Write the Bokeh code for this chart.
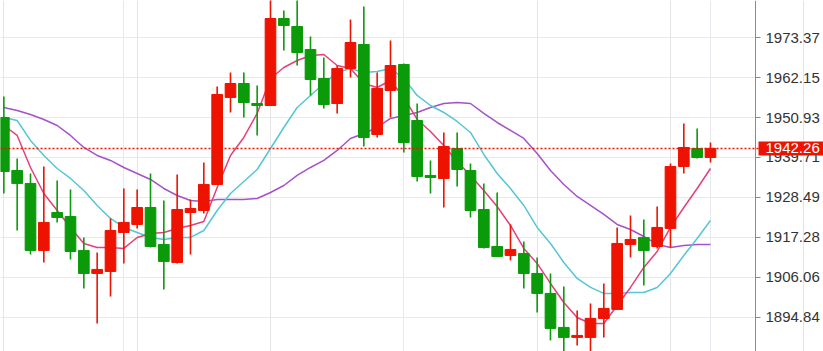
from bokeh.plotting import figure
from bokeh.models import (FixedTicker, PrintfTickFormatter, Span, Label, Grid,
                          ColumnDataSource, Range1d, BoxAnnotation)
from bokeh.embed import file_html
from bokeh.resources import INLINE

# ---- data ----
opens = [1950.94, 1936.07, 1932.43, 1913.64, 1924.29, 1923.17, 1913.64, 1907.18, 1907.75, 1918.68,
         1920.93, 1925.69, 1915.32, 1910.27, 1924.29, 1924.85, 1932.15, 1956.55, 1960.47, 1954.86,
         1954.30, 1978.70, 1976.46, 1970.01, 1961.87, 1954.86, 1964.68, 1971.41, 1946.17, 1958.51,
         1965.80, 1950.09, 1934.67, 1933.83, 1942.24, 1936.07, 1925.13, 1914.76, 1912.23, 1912.79,
         1907.18, 1901.58, 1892.04, 1889.24, 1889.24, 1894.56, 1897.09, 1915.32, 1917.28, 1914.76,
         1919.81, 1937.19, 1942.24, 1939.72]
highs = [1956.83, 1939.44, 1935.23, 1937.19, 1933.27, 1930.74, 1917.28, 1913.07, 1922.61, 1931.02,
         1930.74, 1935.23, 1927.66, 1934.95, 1927.94, 1938.32, 1959.63, 1963.56, 1963.56, 1959.91,
         1985.50, 1980.95, 1984.80, 1973.65, 1967.76, 1965.52, 1978.42, 1982.07, 1963.56, 1972.53,
         1966.08, 1954.86, 1938.88, 1946.73, 1946.73, 1938.03, 1932.43, 1929.90, 1920.93, 1916.16,
         1911.67, 1907.18, 1903.54, 1896.81, 1898.77, 1904.38, 1920.09, 1923.45, 1922.33, 1925.98,
         1938.03, 1949.25, 1947.85, 1943.92]
lows = [1929.62, 1919.24, 1912.51, 1910.27, 1921.49, 1911.11, 1902.98, 1893.16, 1900.73, 1909.99,
        1919.81, 1914.48, 1902.70, 1909.99, 1912.51, 1924.01, 1932.15, 1952.34, 1950.94, 1945.89,
        1954.30, 1969.73, 1965.52, 1957.11, 1953.46, 1952.06, 1962.15, 1942.80, 1945.33, 1950.94,
        1941.12, 1932.99, 1929.62, 1925.69, 1931.58, 1922.89, 1914.20, 1911.90, 1910.83, 1902.98,
        1896.25, 1888.39, 1884.19, 1886.99, 1885.03, 1889.24, 1897.09, 1911.67, 1903.82, 1914.20,
        1914.48, 1935.23, 1939.44, 1938.32]
closes = [1935.79, 1932.43, 1913.64, 1921.49, 1922.89, 1913.35, 1907.18, 1908.31, 1919.24, 1921.49,
          1925.69, 1914.76, 1910.55, 1925.13, 1925.41, 1932.15, 1957.39, 1960.47, 1955.14, 1954.30,
          1978.70, 1976.74, 1969.17, 1961.59, 1954.58, 1964.68, 1971.97, 1945.33, 1959.07, 1965.52,
          1943.92, 1934.39, 1934.11, 1942.80, 1936.35, 1924.85, 1914.48, 1911.95, 1913.92, 1907.18,
          1901.58, 1891.76, 1889.24, 1889.80, 1894.56, 1897.37, 1915.60, 1916.72, 1913.64, 1920.09,
          1937.19, 1942.52, 1939.72, 1942.26]

ma_fast = [1948.69, 1945.89, 1936.91, 1929.62, 1924.85, 1920.09, 1915.60, 1914.48, 1914.48, 1914.20,
           1917.28, 1918.40, 1918.68, 1919.81, 1920.65, 1921.77, 1931.30, 1940.28, 1945.33, 1952.06,
           1961.87, 1964.96, 1966.92, 1968.32, 1968.61, 1965.52, 1964.68, 1960.47, 1959.35, 1961.31,
           1956.55, 1950.38, 1947.01, 1943.08, 1938.60, 1934.67, 1930.46, 1925.98, 1920.65, 1914.20,
           1909.99, 1904.38, 1899.05, 1894.84, 1893.16, 1893.16, 1898.21, 1903.26, 1908.87, 1913.35,
           1920.09, 1925.69, 1931.02, 1936.63]
ma_mid = [1950.94, 1950.09, 1944.49, 1940.28, 1936.63, 1933.83, 1930.46, 1926.26, 1922.61, 1920.09,
          1918.68, 1917.28, 1916.72, 1917.28, 1917.28, 1919.24, 1924.85, 1929.62, 1932.99, 1936.35,
          1942.24, 1948.13, 1953.74, 1957.11, 1960.47, 1963.56, 1964.68, 1963.56, 1963.84, 1964.68,
          1961.87, 1957.11, 1954.30, 1952.34, 1949.81, 1946.73, 1940.56, 1935.23, 1931.02, 1926.26,
          1920.09, 1915.60, 1910.27, 1905.78, 1903.26, 1901.58, 1901.58, 1901.86, 1901.86, 1903.26,
          1907.18, 1912.23, 1917.00, 1922.05]
ma_slow = [1953.74, 1952.90, 1951.78, 1950.38, 1948.69, 1945.89, 1942.52, 1940.28, 1938.88, 1936.91,
           1935.23, 1933.55, 1931.02, 1929.06, 1927.66, 1927.38, 1927.94, 1927.94, 1927.94, 1928.22,
           1929.90, 1931.86, 1934.67, 1936.91, 1938.88, 1941.68, 1945.05, 1946.45, 1948.13, 1950.66,
           1951.50, 1952.34, 1953.74, 1954.86, 1955.14, 1954.86, 1952.06, 1949.53, 1947.29, 1945.05,
           1940.84, 1936.07, 1932.15, 1928.78, 1926.26, 1923.73, 1920.93, 1919.52, 1917.56, 1915.32,
           1914.48, 1915.04, 1915.32, 1915.32]

y_ticks = [1883.62, 1894.84, 1906.06, 1917.28, 1928.49, 1939.71, 1950.93, 1962.15, 1973.37, 1984.59]
period_breaks = [9, 30, 53]
last_price = 1942.26

# ---- layout / styling ----
RED = "#ee1300"
GREEN = "#0a9a0a"
GRID = "#e6e9ee"
FONT = "Liberation Sans"
W, H = 823, 351
X0 = -0.25                 # left edge of the view, in bar units
BAR_PX = 13.333            # pixels per bar
AXIS_X = X0 + 755 / BAR_PX  # where the price scale sits
X1 = X0 + W / BAR_PX

idx = list(range(len(opens)))
colors = [RED if c >= o else GREEN for o, c in zip(opens, closes)]
src = ColumnDataSource(dict(
    x=idx, o=opens, h=highs, l=lows, c=closes,
    top=[max(o, c) for o, c in zip(opens, closes)],
    bot=[min(o, c) for o, c in zip(opens, closes)],
    color=colors,
    fast=ma_fast, mid=ma_mid, slow=ma_slow,
))

p = figure(frame_width=W, frame_height=H,
           x_range=Range1d(X0, X1), y_range=Range1d(1885.29, 1983.75),
           x_axis_location=None, y_axis_location="right",
           toolbar_location=None, output_backend="svg",
           min_border=0, outline_line_color=None,
           background_fill_color="white", border_fill_color="white")

# grids
p.ygrid.ticker = FixedTicker(ticks=y_ticks)
p.ygrid.grid_line_color = GRID
p.ygrid.grid_line_width = 1
vgrid = Grid(dimension=0, ticker=FixedTicker(ticks=period_breaks),
             grid_line_color=GRID, grid_line_width=1)
p.add_layout(vgrid)
if "cross_bounds" in Grid.properties():
    p.ygrid.cross_bounds = (X0, AXIS_X)
else:
    p.add_layout(BoxAnnotation(left=AXIS_X, fill_color="white", fill_alpha=1,
                               line_color=None, level="underlay"))

# price axis drawn at a fixed spot inside the view
ax = p.yaxis[0]
ax.fixed_location = AXIS_X
ax.ticker = FixedTicker(ticks=y_ticks)
ax.formatter = PrintfTickFormatter(format="%.2f")
ax.axis_line_color = "#8a8a8a"
ax.major_tick_line_color = "#8a8a8a"
ax.major_tick_out = 5
ax.major_tick_in = 0
ax.minor_tick_line_color = None
ax.major_label_standoff = 5
ax.major_label_text_font = FONT
ax.major_label_text_font_size = "15px"
ax.major_label_text_color = "#333333"

# moving averages
p.line("x", "slow", source=src, line_color="#a552c8", line_width=1.5)
p.line("x", "mid", source=src, line_color="#55c6d6", line_width=1.5)
p.line("x", "fast", source=src, line_color="#e4407a", line_width=1.5)

# candles
p.segment(x0="x", y0="h", x1="x", y1="l", source=src, line_color="color", line_width=1.6)
p.vbar(x="x", top="top", bottom="bot", width=0.8, source=src,
       fill_color="color", line_color="color", line_width=1)

# last price line and tag
p.add_layout(Span(location=last_price, dimension="width", line_color=RED,
                  line_dash="2 2", line_width=1.5))
tag = Label(x=AXIS_X, y=last_price, x_offset=3,
            text=f"{last_price:.2f}", text_color="white", text_font=FONT,
            text_font_size="15px", text_baseline="middle", text_align="left",
            background_fill_color=RED, level="overlay")
try:
    tag.padding = dict(left=7, right=8, top=2, bottom=2)
except Exception:
    tag.padding = 3
p.add_layout(tag)

open("out.html", "w").write(file_html(p, INLINE))
